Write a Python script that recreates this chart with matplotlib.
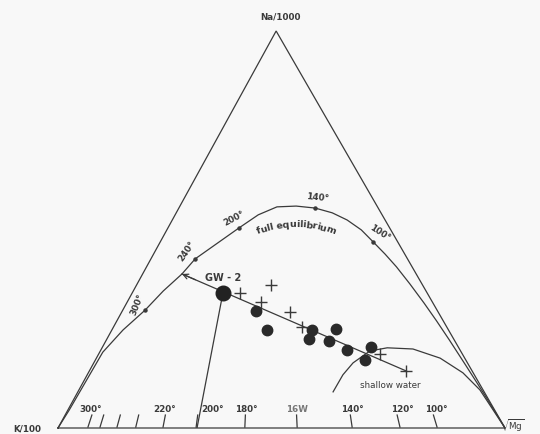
import numpy as np
import matplotlib
matplotlib.use("Agg")
import matplotlib.pyplot as plt

# ternary data as (Na %, Mg %), K = 100 - Na - Mg
full_eq_na = [0, 4.5, 19.1, 24.7, 29.7, 34.5, 38.8, 42.6, 50.4, 53.7, 55.7, 55.9,
              55.4, 54.2, 52.4, 49.9, 46.9, 43.8, 40.6, 36.3, 31.5, 27.0, 22.2,
              15.9, 8.8, 0]
full_eq_mg = [0, 0.3, 0.7, 2.5, 5.0, 6.7, 8.8, 9.9, 15.9, 18.6, 21.8, 26.0,
              30.5, 34.9, 39.1, 43.5, 47.6, 51.8, 55.9, 61.0, 66.5, 71.5, 76.7,
              83.4, 90.9, 100]

iso_temps = ["300°", "240°", "200°", "140°", "100°"]
iso_na = [29.7, 42.6, 50.4, 55.4, 46.9]
iso_mg = [5.0, 9.9, 15.9, 30.5, 47.6]

shallow_na = [9.1, 13.4, 16.4, 19.4, 20.2, 19.9, 17.6, 13.9, 9.6, 0]
shallow_mg = [57.1, 57.2, 58.0, 60.3, 63.8, 69.7, 76.9, 83.8, 89.7, 100]

gw2 = (34.0, 20.3)
dots_na = [29.5, 24.7, 24.7, 24.9, 22.4, 21.9, 19.6, 20.4, 17.1]
dots_mg = [29.9, 34.7, 44.8, 50.0, 45.2, 49.9, 55.1, 60.1, 60.3]
plus_na = [34.0, 36.0, 31.7, 29.2, 25.4, 18.6, 14.4]
plus_mg = [24.1, 30.1, 29.9, 37.7, 42.2, 63.0, 70.8]

mix_tip = (38.8, 8.8)
mix_end = (14.4, 70.8)
gw2_foot = (0, 31.1)

tick_mg = [6.7, 9.4, 13.2, 17.4, 23.5, 30.9, 41.8, 53.5, 65.8, 76.5, 84.8]
label_mg = [7.4, 23.9, 34.5, 42.1, 53.5, 65.8, 77.0, 84.6]
tick_labels = ["300°", "220°", "200°", "180°", "16W", "140°", "120°", "100°"]

NAX, NAY = 0.488, 0.888  # position of Na apex (side K-Mg = 1)


def xy(na, mg):
    na = np.asarray(na, dtype=float) / 100
    mg = np.asarray(mg, dtype=float) / 100
    return mg + na * NAX, na * NAY


ink = "#3a3a3a"
fig = plt.figure(figsize=(5.4, 4.34), dpi=100, facecolor="#f8f8f8")
ax = fig.add_axes([58 / 540, 6 / 434, 447 / 540, 397 / 434])
ax.set_xlim(0, 1)
ax.set_ylim(0, NAY)
ax.axis("off")

# triangle
tx, ty = xy([0, 0, 100, 0], [0, 100, 0, 0])
ax.plot(tx, ty, color=ink, lw=0.9, clip_on=False, solid_joinstyle="miter")

# full equilibrium curve
x, y = xy(full_eq_na, full_eq_mg)
ax.plot(x, y, color=ink, lw=0.9, clip_on=False, solid_joinstyle="round")
x, y = xy(iso_na, iso_mg)
ax.plot(x, y, "o", color=ink, ms=2.2, clip_on=False)
offs = [(-0.018, 0.012, 68), (-0.02, 0.018, 55), (-0.012, 0.022, 28),
        (0.006, 0.023, -6), (0.015, 0.02, -33)]
for t, xi, yi, (dx, dy, r) in zip(iso_temps, x, y, offs):
    ax.text(xi + dx, yi + dy, t, rotation=r, ha="center", va="center",
            fontsize=6.3, fontweight="bold", color=ink)

# curved label along the arc
cx, cy, rad = 0.530, 0.219, 0.236
widths = {"f": .36, "u": .62, "l": .3, " ": .34, "e": .6, "q": .64, "i": .3,
          "b": .64, "r": .42, "m": .96}
txt = "full equilibrium"
em = 0.0235
ang = np.deg2rad(111)
for c in txt:
    w = widths[c] * em
    a = ang - (w / 2) / rad
    ax.text(cx + rad * np.cos(a), cy + rad * np.sin(a), c,
            rotation=np.rad2deg(a) - 90, ha="center", va="center",
            fontsize=6.8, fontweight="bold", color=ink,
            rotation_mode="anchor")
    ang -= w / rad

# shallow water curve
x, y = xy(shallow_na, shallow_mg)
ax.plot(x, y, color=ink, lw=0.9, clip_on=False)
sx, sy = xy(10.6, 69.1)
ax.text(sx, sy, "shallow water", ha="center", va="center", fontsize=6.3, color=ink)

# mixing line with arrow
x, y = xy([mix_tip[0], mix_end[0]], [mix_tip[1], mix_end[1]])
ax.plot(x, y, color=ink, lw=0.9)
ax.annotate("", xy=(x[0], y[0]), xytext=(x[0] + 0.03, y[0] - 0.013),
            arrowprops=dict(arrowstyle="->", color=ink, lw=0.9,
                            mutation_scale=9, shrinkA=0, shrinkB=0))
x, y = xy([gw2[0], gw2_foot[0]], [gw2[1], gw2_foot[1]])
ax.plot(x, y, color=ink, lw=0.9)

# samples
x, y = xy(dots_na, dots_mg)
ax.plot(x, y, "o", color="#2a2a2a", ms=7.5, ls="none")
x, y = xy(plus_na, plus_mg)
ax.plot(x, y, "+", color=ink, ms=8, mew=1.0, ls="none")
gx, gy = xy(*gw2)
ax.plot(gx, gy, "o", color="#222222", ms=10.5)
ax.text(gx, gy + 0.034, "GW - 2", ha="center", va="center",
        fontsize=7, fontweight="bold", color=ink)

# K-Mg axis ticks
fx, fy = 0.474, 1.338
th = 0.029
for m in tick_mg:
    b = m / 100
    dx = (fx - b) * th / fy
    ax.plot([b, b + dx], [0.002, th], color=ink, lw=0.9, clip_on=False)
for m, lab in zip(label_mg, tick_labels):
    ax.text(m / 100, 0.041, lab, ha="center", va="center", fontsize=6.3,
            fontweight="bold", color="#777777" if lab == "16W" else ink)

# corner labels
ax.text(0.497, 0.92, "Na/1000", ha="center", va="center", fontsize=6.3,
        fontweight="bold", color=ink, clip_on=False)
ax.text(-0.069, -0.003, "K/100", ha="center", va="center", fontsize=6.3,
        fontweight="bold", color=ink, clip_on=False)
ax.text(0.99, 0.006, r"$\sqrt{\mathrm{Mg}}$", ha="left", va="center",
        fontsize=6.3, color=ink, clip_on=False)

fig.savefig("out.png", dpi=100, facecolor=fig.get_facecolor())
